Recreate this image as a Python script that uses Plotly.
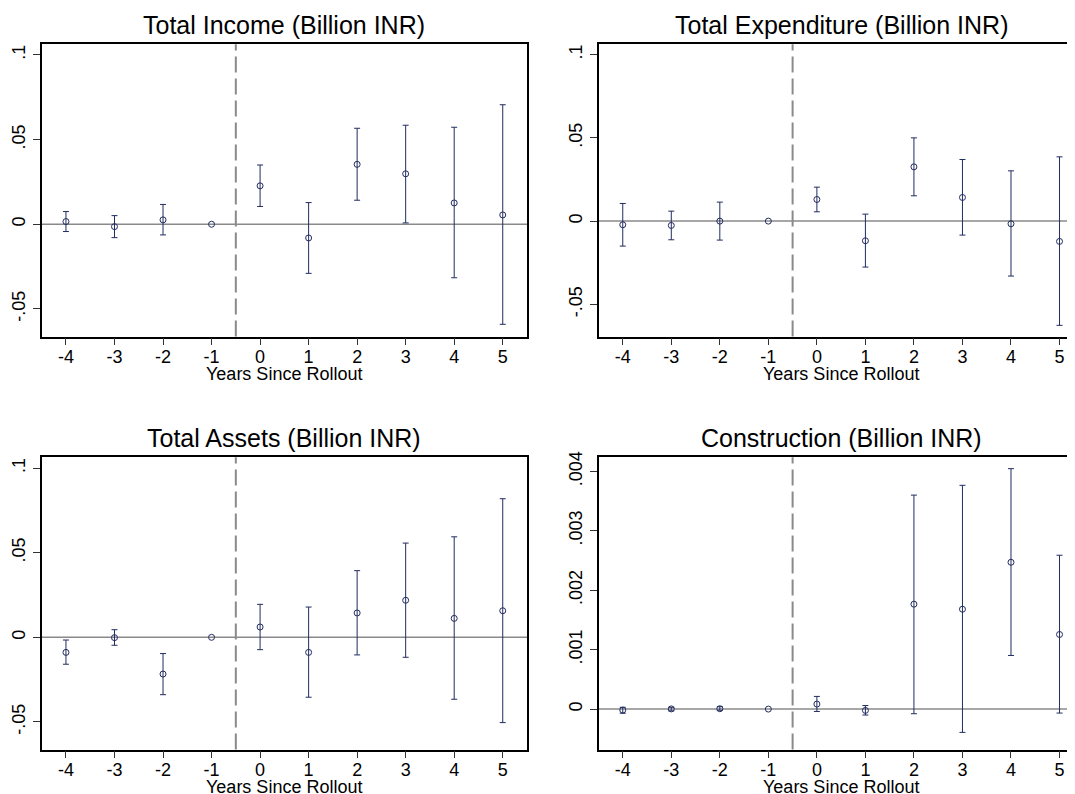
import plotly.graph_objects as go
import numpy as np

# ---------------- data ----------------
years = [-4, -3, -2, -1, 0, 1, 2, 3, 4, 5]

income_coef = [0.0016, -0.0014, 0.0026, 0.0, 0.0227, -0.0081, 0.0354, 0.0298, 0.0126, 0.0055]
income_hi = [0.0075, 0.0051, 0.0117, None, 0.0350, 0.0128, 0.0567, 0.0585, 0.0573, 0.0706]
income_lo = [-0.0043, -0.0079, -0.0063, None, 0.0105, -0.0290, 0.0142, 0.0008, -0.0316, -0.0591]

expend_coef = [-0.0022, -0.0026, 0.0000, 0.0, 0.0130, -0.0118, 0.0326, 0.0142, -0.0016, -0.0122]
expend_hi = [0.0106, 0.0060, 0.0114, None, 0.0204, 0.0042, 0.0500, 0.0370, 0.0302, 0.0386]
expend_lo = [-0.0150, -0.0112, -0.0114, None, 0.0056, -0.0276, 0.0152, -0.0084, -0.0330, -0.0626]

assets_coef = [-0.0089, -0.0002, -0.0217, 0.0, 0.0061, -0.0089, 0.0144, 0.0219, 0.0112, 0.0157]
assets_hi = [-0.0016, 0.0045, -0.0096, None, 0.0195, 0.0179, 0.0394, 0.0557, 0.0594, 0.0819]
assets_lo = [-0.0159, -0.0047, -0.0339, None, -0.0073, -0.0354, -0.0104, -0.0118, -0.0366, -0.0504]

constr_coef = [-0.000017, 0.000003, 0.000006, 0.0, 0.000084, -0.000022, 0.001765, 0.00168, 0.00247, 0.001255]
constr_hi = [0.00003, 0.00003, 0.00004, None, 0.000213, 0.00006, 0.0036, 0.003765, 0.004045, 0.002588]
constr_lo = [-0.00007, -0.00003, -0.00002, None, -0.00004, -0.0001, -0.000078, -0.000392, 0.000902, -0.000067]

titles = ["Total Income (Billion INR)", "Total Expenditure (Billion INR)",
          "Total Assets (Billion INR)", "Construction (Billion INR)"]
x_title = "Years Since Rollout"

big_tickvals = [-0.05, 0, 0.05, 0.1]
big_ticktext = ["-.05", "0", ".05", ".1"]
small_tickvals = [0, 0.001, 0.002, 0.003, 0.004]
small_ticktext = ["0", ".001", ".002", ".003", ".004"]

rollout_line = -0.5

# ---------------- layout geometry ----------------
# the page body has an 8px default margin, so the figure is sized to fill the
# rest of the 1075x794 window; geometry below is given in window pixels.
OFF = 8
WIN_W, WIN_H = 1075, 794
W, H = WIN_W - OFF, WIN_H - OFF
NAVY = "#222c60"
FONT = "Liberation Sans, Arial, sans-serif"
TICK_SIZE = 18
TITLE_SIZE = 25

def px_x(p):
    return (p - OFF) / W

def px_y(p):
    return 1 - (p - OFF) / H

panels = [
    dict(coef=income_coef, hi=income_hi, lo=income_lo, xd=(41.7, 527.0), yd=(44.3, 336.5),
         xr=[-4.5, 5.5], yr=[-0.0663, 0.1063], tv=big_tickvals, tt=big_ticktext, mirror=True),
    dict(coef=expend_coef, hi=expend_hi, lo=expend_lo, xd=(598.5, 1075.0), yd=(44.3, 336.5),
         xr=[-4.5, 5.319], yr=[-0.0693, 0.1062], tv=big_tickvals, tt=big_ticktext, mirror=False),
    dict(coef=assets_coef, hi=assets_hi, lo=assets_lo, xd=(41.7, 527.0), yd=(457.3, 749.5),
         xr=[-4.5, 5.5], yr=[-0.0663, 0.1064], tv=big_tickvals, tt=big_ticktext, mirror=True),
    dict(coef=constr_coef, hi=constr_hi, lo=constr_lo, xd=(598.5, 1075.0), yd=(457.3, 749.5),
         xr=[-4.5, 5.319], yr=[-0.00068, 0.004236], tv=small_tickvals, tt=small_ticktext, mirror=False),
]

fig = go.Figure()
layout = dict(
    width=W, height=H,
    margin=dict(l=0, r=0, t=0, b=0),
    paper_bgcolor="white", plot_bgcolor="white",
    showlegend=False,
    font=dict(family=FONT, color="black"),
    template="none",
)
annotations = []
shapes = []

for i, p in enumerate(panels):
    n = i + 1
    xa = "x" if n == 1 else f"x{n}"
    ya = "y" if n == 1 else f"y{n}"
    coef = np.array(p["coef"], dtype=float)
    hi = np.array([np.nan if v is None else v for v in p["hi"]], dtype=float)
    lo = np.array([np.nan if v is None else v for v in p["lo"]], dtype=float)

    fig.add_trace(go.Scatter(
        x=years, y=coef, mode="markers", xaxis=xa, yaxis=ya,
        marker=dict(symbol="circle-open", size=6, color=NAVY, line=dict(width=1, color=NAVY)),
        error_y=dict(type="data", symmetric=False, array=hi - coef, arrayminus=coef - lo,
                     color=NAVY, thickness=1, width=3),
        hoverinfo="x+y",
    ))

    xd = [px_x(p["xd"][0]), min(1.0, px_x(p["xd"][1]))]
    yd = [px_y(p["yd"][1]), px_y(p["yd"][0])]
    xkey = "xaxis" if n == 1 else f"xaxis{n}"
    ykey = "yaxis" if n == 1 else f"yaxis{n}"
    layout[xkey] = dict(
        domain=xd, range=p["xr"], anchor=ya, automargin=False,
        tickmode="array", tickvals=years, ticktext=[str(v) for v in years],
        ticks="outside", ticklen=7, tickwidth=1, tickcolor="#333333",
        tickfont=dict(size=TICK_SIZE, family=FONT, color="black"),
        ticklabelstandoff=-4,
        showline=True, linecolor="black", linewidth=1.5, mirror=True,
        showgrid=False, zeroline=False, fixedrange=True,
    )
    layout[ykey] = dict(
        domain=yd, range=p["yr"], anchor=xa, automargin=False,
        tickmode="array", tickvals=p["tv"], ticktext=p["tt"], tickangle=-90,
        ticks="outside", ticklen=7, tickwidth=1, tickcolor="#333333",
        tickfont=dict(size=TICK_SIZE, family=FONT, color="black"),
        ticklabelstandoff=1,
        showline=True, linecolor="black", linewidth=1.5, mirror=p["mirror"],
        showgrid=False, zeroline=False, fixedrange=True,
    )

    # zero reference line
    shapes.append(dict(type="line", xref=f"{xa} domain", yref=ya, x0=0, x1=1, y0=0, y1=0,
                       line=dict(color="#8a8a8a", width=1.5), layer="below"))
    # rollout dashed line
    shapes.append(dict(type="line", xref=xa, yref=f"{ya} domain", x0=rollout_line, x1=rollout_line,
                       y0=0, y1=1, line=dict(color="#8a8a8a", width=2, dash="16px,6px"), layer="below"))

    # centre of the full (possibly cropped) panel box
    full_right = p["xd"][0] + (p["xd"][1] - p["xd"][0]) * (5.5 - p["xr"][0]) / (p["xr"][1] - p["xr"][0])
    cx = (p["xd"][0] + full_right) / 2
    annotations.append(dict(text=titles[i], xref="paper", yref="paper",
                            x=px_x(cx), y=px_y(p["yd"][0] - 19.5), xanchor="center", yanchor="middle",
                            showarrow=False, font=dict(size=TITLE_SIZE, family=FONT, color="black")))
    annotations.append(dict(text=x_title, xref="paper", yref="paper",
                            x=px_x(cx), y=px_y(p["yd"][1] + 37), xanchor="center", yanchor="middle",
                            showarrow=False, font=dict(size=TICK_SIZE, family=FONT, color="black")))

layout["annotations"] = annotations
layout["shapes"] = shapes
fig.update_layout(**layout)
fig.write_html("out.html")
